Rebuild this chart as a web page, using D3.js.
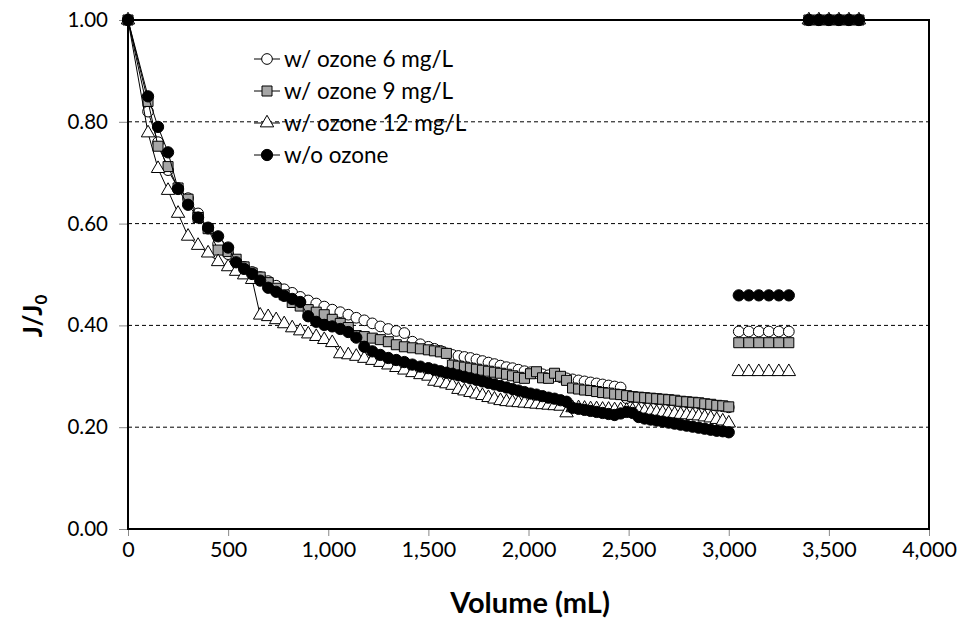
<!DOCTYPE html>
<html>
<head>
<meta charset="utf-8">
<script src="https://cdn.jsdelivr.net/npm/d3@7"></script>
<style>
  html, body { margin: 0; padding: 0; background: #fff; }
  svg { display: block; }
  text { font-family: Lato, "Noto Sans", sans-serif; fill: #000; }
</style>
</head>
<body>
<svg id="chart" width="977" height="638"></svg>
<script>
// ---------------- DATA ----------------
const seriesNames = ["w/ ozone 6 mg/L", "w/ ozone 9 mg/L", "w/ ozone 12 mg/L", "w/o ozone"];

const volume = [0,100,150,200,250,300,350,400,450,500,
  540,580,620,660,700,740,780,820,860,900,940,980,1020,1060,1100,1140,1180,1220,1260,1300,1340,1380,1420,1460,1500,
  1530,1560,1590,1620,1650,1680,1710,1740,1770,1800,1830,1860,1890,1920,1950,1980,2010,2040,2070,2100,2130,2160,2190,
  2220,2250,2280,2310,2340,2370,2400,2430,2460,2490,2520,2550,2580,2610,2640,2670,2700,2730,2760,2790,2820,2850,2880,
  2910,2940,2970,3000];

const ozone6 = [1.000,0.820,0.760,0.705,0.670,0.650,0.620,0.590,0.560,0.540,
  0.525,0.515,0.505,0.495,0.487,0.478,0.471,0.464,0.456,0.449,0.443,0.437,0.431,0.426,0.421,0.415,0.410,0.404,0.398,0.393,0.389,0.385,0.368,0.363,0.358,
  0.354,0.350,0.345,0.342,0.340,0.338,0.336,0.333,0.330,0.327,0.324,0.321,0.318,0.316,0.313,0.310,0.308,0.306,0.304,0.302,0.300,0.298,0.296,
  0.294,0.292,0.290,0.288,0.286,0.284,0.282,0.280,0.278,0.257,0.259,0.258,0.257,0.256,0.255,0.254,0.253,0.252,0.250,0.249,0.248,0.247,0.245,
  0.244,0.242,0.241,0.239];

const ozone9 = [1.000,0.840,0.752,0.712,0.670,0.648,0.612,0.590,0.548,0.545,
  0.530,0.515,0.503,0.495,0.484,0.473,0.460,0.445,0.438,0.431,0.426,0.421,0.412,0.404,0.396,0.380,0.378,0.375,0.372,0.368,0.362,0.358,0.356,0.354,0.352,
  0.350,0.348,0.345,0.322,0.320,0.318,0.316,0.314,0.312,0.310,0.308,0.306,0.304,0.301,0.298,0.296,0.305,0.309,0.297,0.296,0.306,0.300,0.292,
  0.277,0.275,0.273,0.272,0.270,0.268,0.267,0.265,0.264,0.262,0.260,0.259,0.258,0.257,0.256,0.255,0.254,0.253,0.251,0.250,0.249,0.248,0.246,
  0.245,0.243,0.242,0.240];

const ozone12 = [1.000,0.778,0.708,0.665,0.620,0.575,0.557,0.542,0.525,0.515,
  0.506,0.499,0.490,0.420,0.417,0.411,0.403,0.395,0.389,0.383,0.378,0.372,0.366,0.344,0.342,0.339,0.335,0.331,0.327,0.322,0.317,0.312,0.307,0.303,0.300,
  0.290,0.288,0.285,0.282,0.274,0.271,0.268,0.265,0.262,0.258,0.255,0.252,0.250,0.249,0.248,0.247,0.246,0.245,0.244,0.243,0.242,0.241,0.228,
  0.238,0.238,0.237,0.236,0.236,0.235,0.235,0.234,0.234,0.233,0.233,0.232,0.231,0.230,0.229,0.228,0.227,0.226,0.225,0.224,0.223,0.222,0.220,
  0.218,0.215,0.212,0.208];

const noOzone = [1.000,0.850,0.790,0.740,0.668,0.637,0.612,0.592,0.575,0.553,
  0.524,0.511,0.501,0.488,0.474,0.466,0.458,0.452,0.446,0.418,0.407,0.401,0.398,0.393,0.387,0.376,0.358,0.349,0.342,0.336,0.332,0.328,0.323,0.319,0.316,
  0.313,0.310,0.307,0.305,0.302,0.299,0.296,0.293,0.290,0.287,0.284,0.281,0.278,0.275,0.272,0.269,0.266,0.264,0.261,0.258,0.256,0.253,0.250,
  0.238,0.236,0.234,0.232,0.230,0.228,0.226,0.224,0.227,0.230,0.228,0.220,0.217,0.215,0.213,0.211,0.209,0.207,0.205,0.203,0.201,0.199,0.197,
  0.195,0.193,0.192,0.190];

// separate groups of points (no connecting line)
const groupVolumeA = [3050,3100,3150,3200,3250,3300];
const groupFluxA = [0.388, 0.366, 0.309, 0.459];   // per series, order as seriesNames
const groupVolumeB = [3400,3450,3500,3550,3600,3650];
const groupFluxB = [1.00, 1.00, 1.00, 1.00];

const xTicks = [0,500,1000,1500,2000,2500,3000,3500,4000];
const yTicks = [0,0.2,0.4,0.6,0.8,1.0];

// ---------------- CHART ----------------
const svg = d3.select("#chart");
const L = 128, R = 929, T = 20, B = 529;
const x = d3.scaleLinear().domain([0,4000]).range([L,R]);
const y = d3.scaleLinear().domain([0,1]).range([B,T]);

// gridlines
svg.append("g").selectAll("line").data(yTicks.filter(d => d > 0 && d < 1)).join("line")
  .attr("x1", L).attr("x2", R)
  .attr("y1", d => y(d)).attr("y2", d => y(d))
  .attr("stroke", "#000").attr("stroke-width", 1).attr("stroke-dasharray", "4,3");

// axes
const xAxis = d3.axisBottom(x).tickValues(xTicks).tickSize(7).tickPadding(6)
  .tickFormat(d3.format(","));
const gx = svg.append("g").attr("transform", `translate(0,${B})`).call(xAxis);
gx.select(".domain").remove();
gx.selectAll(".tick line").attr("stroke", "#888");
gx.selectAll(".tick text").attr("font-size", 21.5).attr("font-family", "Lato, sans-serif");

const yAxis = d3.axisLeft(y).tickValues(yTicks).tickSize(9).tickPadding(11)
  .tickFormat(d3.format(".2f"));
const gy = svg.append("g").attr("transform", `translate(${L},0)`).call(yAxis);
gy.select(".domain").remove();
gy.selectAll(".tick line").attr("stroke", "#888");
gy.selectAll(".tick text").attr("font-size", 20.5).attr("font-family", "Lato, sans-serif");

// plot border
svg.append("rect").attr("x", L).attr("y", T).attr("width", R - L).attr("height", B - T)
  .attr("fill", "none").attr("stroke", "#000").attr("stroke-width", 2);

// series styling
const styles = [
  {symbol: d3.symbolCircle, size: 90, fill: "#fff"},
  {symbol: d3.symbolSquare, size: 100, fill: "#a6a6a6"},
  {symbol: d3.symbolTriangle, size: 78, fill: "#fff"},
  {symbol: d3.symbolCircle, size: 100, fill: "#000"}
];
const seriesValues = [ozone6, ozone9, ozone12, noOzone];

const line = d3.line().x(d => x(d[0])).y(d => y(d[1]));

seriesValues.forEach((vals, i) => {
  const pts = volume.map((v, k) => [v, vals[k]]);
  const st = styles[i];
  const g = svg.append("g");
  g.append("path").datum(pts).attr("d", line)
    .attr("fill", "none").attr("stroke", "#000").attr("stroke-width", 1);
  const sym = d3.symbol().type(st.symbol).size(st.size);
  g.selectAll("path.m").data(pts).join("path").attr("class", "m")
    .attr("d", sym)
    .attr("transform", d => `translate(${x(d[0])},${y(d[1])})`)
    .attr("fill", st.fill).attr("stroke", "#000").attr("stroke-width", 1);
});

// separate groups
seriesValues.forEach((vals, i) => {
  const st = styles[i];
  const sym = d3.symbol().type(st.symbol).size(st.size);
  const pts = groupVolumeA.map(v => [v, groupFluxA[i]]).concat(groupVolumeB.map(v => [v, groupFluxB[i]]));
  svg.append("g").selectAll("path").data(pts).join("path")
    .attr("d", sym)
    .attr("transform", d => `translate(${x(d[0])},${y(d[1])})`)
    .attr("fill", st.fill).attr("stroke", "#000").attr("stroke-width", 1);
});

// legend
const leg = svg.append("g");
seriesNames.forEach((name, i) => {
  const yy = 59 + i * 32;
  const st = styles[i];
  leg.append("line").attr("x1", 254).attr("x2", 280).attr("y1", yy).attr("y2", yy)
    .attr("stroke", "#000").attr("stroke-width", 1);
  leg.append("path").attr("d", d3.symbol().type(st.symbol).size(st.size)())
    .attr("transform", `translate(267,${yy})`)
    .attr("fill", st.fill).attr("stroke", "#000").attr("stroke-width", 1);
  leg.append("text").attr("x", 284).attr("y", yy).attr("dy", "0.35em")
    .attr("font-size", 22.5).text(name);
});

// axis titles
svg.append("text").attr("x", 530).attr("y", 613)
  .attr("text-anchor", "middle").attr("font-size", 29).attr("font-weight", "bold")
  .text("Volume (mL)");

const yt = svg.append("text").attr("transform", "translate(42,316) rotate(-90)")
  .attr("text-anchor", "middle").attr("font-size", 26).attr("font-weight", "bold");
yt.append("tspan").text("J/J");
yt.append("tspan").attr("font-size", 17).attr("dy", "0.3em").text("0");
</script>
</body>
</html>
